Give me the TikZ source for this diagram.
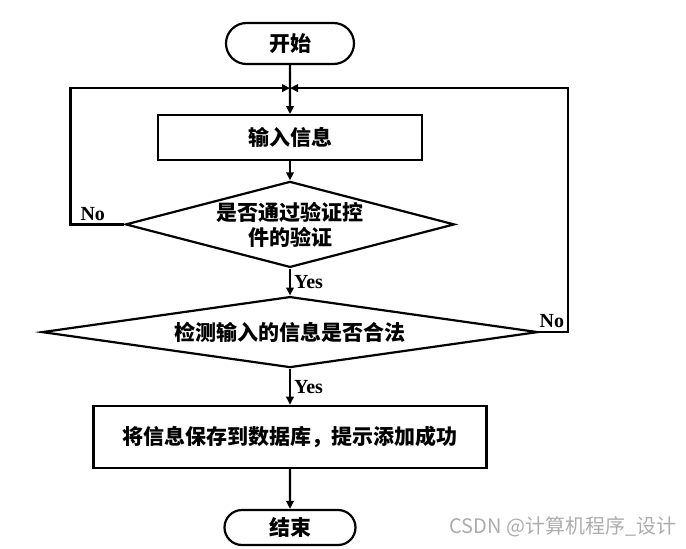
\documentclass[tikz,border=0pt]{standalone}
\usepackage{fontspec}
\setmainfont{Liberation Serif}
\newfontfamily\cjk{Noto Sans CJK SC}
\usetikzlibrary{arrows.meta,positioning,shapes.geometric,shapes.misc}

\begin{document}
\begin{tikzpicture}[
    x=1pt, y=-1pt,
    font=\fontsize{21}{25}\selectfont\cjk\bfseries,
    line width=2.2pt,
    term/.style={draw, rounded rectangle, inner sep=0pt},
    box/.style={draw, align=center, inner sep=0pt},
    dec/.style={draw, diamond, align=center, inner sep=0pt},
    line/.style={-{Triangle[length=8pt,width=7.5pt]}},
    lbl/.style={font=\fontsize{20}{22}\selectfont\rmfamily\bfseries, inner sep=3pt},
  ]
    \useasboundingbox (0,0) rectangle (686,549);

    \node[term, minimum width=128pt, minimum height=41pt] (start) at (290,43.5) {开始};
    \coordinate[below=23pt of start] (join);
    \node[box, minimum width=264pt, minimum height=45pt, below=49pt of start] (input) {输入信息};
    \node[dec, aspect=3.83, minimum width=329pt, minimum height=86pt, below=19pt of input] (check1) {是否通过验证控\\件的验证};
    \node[dec, aspect=7, minimum width=496pt, minimum height=71pt, below=27pt of check1] (check2) {检测输入的信息是否合法};
    \node[box, minimum width=393pt, minimum height=62pt, below=36pt of check2] (save) {将信息保存到数据库，提示添加成功};
    \node[term, minimum width=131pt, minimum height=35pt, below=40pt of save] (stop) {结束};

    \draw[line] (start) -- (input);
    \draw[line] (input) -- (check1);
    \draw[line] (check1) -- node[lbl, right] {Yes} (check2);
    \draw[line] (check2) -- node[lbl, right] {Yes} (save);
    \draw[line] (save) -- (stop);
    \draw[line] (check1.west) -- ++(-54,0) node[lbl, above right, xshift=6pt] {No} |- (join);
    \draw[line] (check2.east) -- ++(29,0) node[lbl, above left] {No} |- (join);

    \node[font=\fontsize{20}{24}\selectfont\cjk, text=gray!65] (mark) at (563,527) {CSDN @计算机程序\_设计};
\end{tikzpicture}
\end{document}
